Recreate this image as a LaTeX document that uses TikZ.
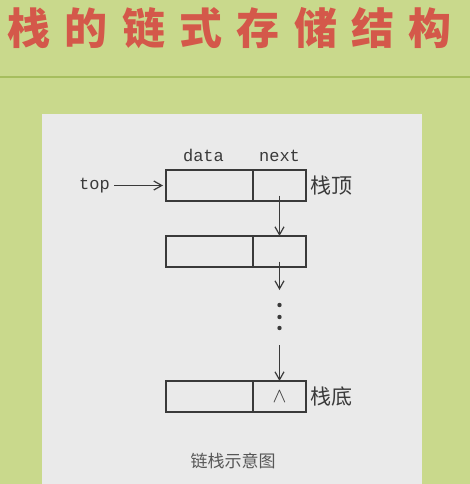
\documentclass[tikz,border=0pt]{standalone}
\usepackage{fontspec}
\usepackage{tikz}
\usetikzlibrary{arrows.meta,positioning}
\setmonofont{Liberation Mono}
\newfontfamily\cjk{Noto Sans CJK SC}
\definecolor{leaf}{HTML}{C9D98C}
\definecolor{leafline}{HTML}{A6BE5E}
\definecolor{panel}{HTML}{EAEAEA}
\definecolor{brick}{HTML}{D4584A}
\definecolor{ink}{HTML}{3A3A3A}

\begin{document}
\begin{tikzpicture}[x=1pt, y=-1pt,
    cell/.style={draw=ink, line width=1.2pt, minimum height=31pt, inner sep=0pt, outer sep=0pt},
    datacell/.style={cell, minimum width=87pt},
    nextcell/.style={cell, minimum width=53pt},
    field/.style={font=\ttfamily\fontsize{17}{17}\selectfont, text=ink, inner sep=0pt},
    tag/.style={font=\cjk\fontsize{21}{21}\selectfont, text=ink, inner sep=0pt},
    link/.style={-{Straight Barb[length=8pt,width=9pt]}, line width=1.2pt, draw=ink},
    titlechar/.style={font=\cjk\bfseries\fontsize{43}{43}\selectfont, text=brick, inner sep=0pt}
]
    \useasboundingbox (0,0) rectangle (470,484);
    \fill[leaf] (0,0) rectangle (470,484);
    \draw[leafline, line width=1.5pt] (0,77) -- (470,77);
    \fill[panel] (42,114) rectangle (422,484);

    % title
    \foreach \ch [count=\i] in {栈,的,链,式,存,储,结,构}
        \node[titlechar] (title\i) at ({29+57.3*(\i-1)},28) {\ch};

    % top node
    \node[datacell] (data1) at (209.5,185.5) {};
    \node[nextcell, right=0pt of data1] (next1) {};
    % second node
    \node[datacell] (data2) at (209.5,251.5) {};
    \node[nextcell, right=0pt of data2] (next2) {};
    % bottom node
    \node[datacell] (data3) at (209.5,396.5) {};
    \node[nextcell, right=0pt of data3, text=ink, font=\fontsize{22}{22}\selectfont] (next3) {$\wedge$};

    \node[field, above=8pt of data1, xshift=-6pt] (datalbl) {data};
    \node[field] (nextlbl) at (datalbl -| next1) {next};
    \node[field, left=56pt of data1] (top) {top};
    \node[tag, right=4pt of next1] (stacktop) {栈顶};
    \node[tag, right=4pt of next3] (stackbottom) {栈底};
    \node[font=\cjk\fontsize{17}{17}\selectfont, text=ink!85] (caption) at (233,461) {链栈示意图};

    % links
    \coordinate (p1) at ([yshift=-10pt]next1.center);
    \coordinate (p2) at ([yshift=-10pt]next2.center);
    \coordinate (gap) at (next2.center |- 0,290);
    \coordinate (resume) at (next2.center |- 0,345);
    \draw[link, shorten <=4pt, shorten >=3pt] (top) -- (data1);
    \draw[link] (p1) -- (next2.north);
    \draw[link] (p2) -- (gap);
    \foreach \y in {305,317,328}
        \fill[ink] (next2.center |- 0,\y) circle (2.2pt);
    \draw[link] (resume) -- (next3.north);
\end{tikzpicture}
\end{document}
